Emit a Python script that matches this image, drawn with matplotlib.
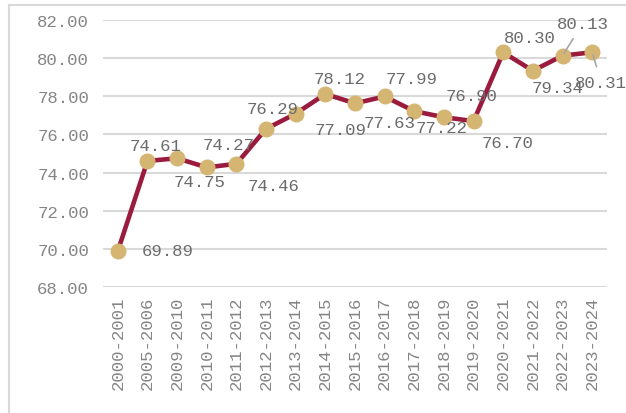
import matplotlib
matplotlib.use("Agg")
import matplotlib.pyplot as plt
from matplotlib.lines import Line2D

years = ["2000-2001", "2005-2006", "2009-2010", "2010-2011", "2011-2012",
         "2012-2013", "2013-2014", "2014-2015", "2015-2016", "2016-2017",
         "2017-2018", "2018-2019", "2019-2020", "2020-2021", "2021-2022",
         "2022-2023", "2023-2024"]
values = [69.89, 74.61, 74.75, 74.27, 74.46, 76.29, 77.09, 78.12, 77.63,
          77.99, 77.22, 76.90, 76.70, 80.30, 79.34, 80.13, 80.31]
yticks = [68, 70, 72, 74, 76, 78, 80, 82]

# label offsets from each point, in pixels (x right, y up)
label_offsets = [(50, 0), (8, 15), (22, -23), (22, 23), (37, -22), (7, 20),
                 (45, -16), (14, 15), (35, -19), (27, 18), (27, -16),
                 (28, 22), (34, -21), (27, 15), (25, -17), (20, 32), (9, -30)]
leader = [False] * 15 + [True, True]

LINE = "#9b1b3f"
DOT = "#d4b572"
GRID = "#d9d9d9"
TXT = "#858585"
FONT = "Liberation Mono"

fig = plt.figure(figsize=(6.26, 4.14), dpi=100)
ax = fig.add_axes([103 / 626, 1 - 288 / 414, 504 / 626, 267 / 414])

x = list(range(len(values)))
ax.plot(x, values, color=LINE, lw=3.3, marker="o", ms=10.5,
        markerfacecolor=DOT, markeredgecolor=DOT, zorder=3, clip_on=False)

for i, v in enumerate(values):
    dx, dy = label_offsets[i]
    kw = {}
    if leader[i]:
        kw["arrowprops"] = dict(arrowstyle="-", color="#a6a6a6", lw=1.2,
                                shrinkA=4, shrinkB=2)
    ax.annotate(f"{v:.2f}", (i, v), xytext=(dx, dy), textcoords="offset pixels",
                ha="center", va="center", fontsize=12.5, family=FONT,
                color="#6b6b6b", zorder=4, annotation_clip=False, **kw)

ax.set_xlim(-0.5, len(values) - 0.5)
ax.set_ylim(68, 82)
ax.set_yticks(yticks)
ax.set_yticklabels([f"{t:.2f}" for t in yticks], family=FONT, fontsize=12.5, color=TXT)
ax.set_xticks(x)
ax.set_xticklabels(years, rotation=90, family=FONT, fontsize=12.5, color=TXT)
ax.tick_params(length=0, pad=10)
ax.tick_params(axis="x", pad=6)
ax.yaxis.grid(True, color=GRID, lw=1.5)
ax.set_axisbelow(True)
for s in ax.spines.values():
    s.set_visible(False)

# chart area border (left and top edges visible)
fig.add_artist(Line2D([9 / 626, 9 / 626], [0, 1 - 6 / 414], color=GRID, lw=1.5))
fig.add_artist(Line2D([9 / 626, 1], [1 - 6 / 414, 1 - 6 / 414], color=GRID, lw=1.5))

fig.savefig("out.png", dpi=100)
